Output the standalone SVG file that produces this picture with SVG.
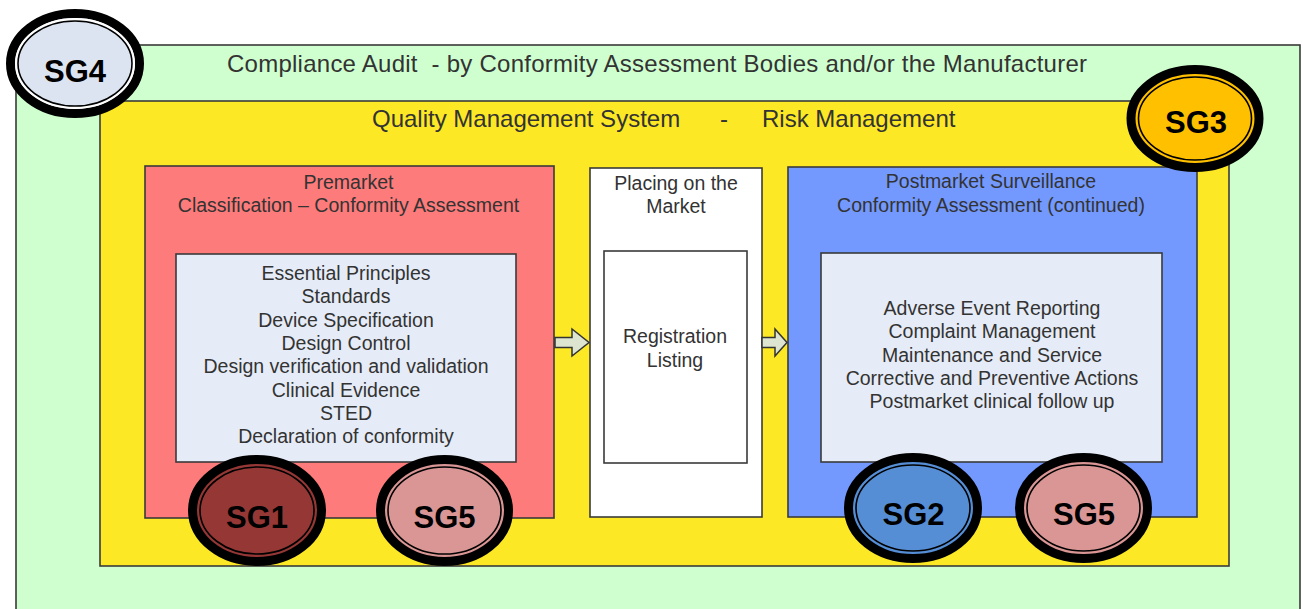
<svg xmlns="http://www.w3.org/2000/svg" width="1303" height="609" viewBox="0 0 1303 609">
<style>
.box{stroke:#3a3a3a;stroke-width:1.6}
.t{font-family:"Liberation Sans",Arial,sans-serif;font-size:19.5px;fill:#333;text-anchor:middle}
.big{font-family:"Liberation Sans",Arial,sans-serif;font-size:24px;fill:#333;white-space:pre}
.sg{stroke:#000;stroke-width:9}
.sgi{fill:none;stroke:#000;stroke-width:1.6}
.sgt{font-family:"Liberation Sans",Arial,sans-serif;font-size:31px;font-weight:bold;fill:#000;text-anchor:middle}
.arrow{fill:#dde4cf;stroke:#333;stroke-width:1.5}
</style>
<rect x="0" y="0" width="1303" height="609" fill="#ffffff"/>
<g id="compliance-audit">
<rect class="box" x="16" y="45" width="1284" height="600" fill="#cfffcf"/>
<text class="big" x="227" y="72" xml:space="preserve" textLength="860" lengthAdjust="spacing">Compliance Audit  - by Conformity Assessment Bodies and/or the Manufacturer</text>
</g>
<g id="qms">
<rect class="box" x="100" y="101" width="1129" height="465" fill="#fde825"/>
<text class="big" x="372" y="127">Quality Management System</text>
<text class="big" x="720" y="127">-</text>
<text class="big" x="762" y="127">Risk Management</text>
</g>
<g id="premarket">
<rect class="box" x="145" y="166" width="409" height="352" fill="#fe7b7b"/>
<text class="t" x="348.5" y="189">Premarket</text>
<text class="t" x="348.5" y="212">Classification – Conformity Assessment</text>
</g>
<g id="premarket-items">
<rect class="box" x="176" y="254" width="340" height="208" fill="#e6ecf7"/>
<text class="t" x="346" y="280">Essential Principles</text>
<text class="t" x="346" y="303.3">Standards</text>
<text class="t" x="346" y="326.6">Device Specification</text>
<text class="t" x="346" y="350">Design Control</text>
<text class="t" x="346" y="373.3">Design verification and validation</text>
<text class="t" x="346" y="396.6">Clinical Evidence</text>
<text class="t" x="346" y="420">STED</text>
<text class="t" x="346" y="443.3">Declaration of conformity</text>
</g>
<g id="placing">
<rect class="box" x="590" y="168" width="172" height="349" fill="#ffffff"/>
<text class="t" x="676" y="190">Placing on the</text>
<text class="t" x="676" y="213">Market</text>
</g>
<g id="registration">
<rect class="box" x="604" y="251" width="143" height="212" fill="#ffffff"/>
<text class="t" x="675" y="343">Registration</text>
<text class="t" x="675" y="367">Listing</text>
</g>
<g id="postmarket">
<rect class="box" x="788" y="167" width="409" height="350" fill="#7399fe"/>
<text class="t" x="991" y="188">Postmarket Surveillance</text>
<text class="t" x="991" y="212">Conformity Assessment (continued)</text>
</g>
<g id="postmarket-items">
<rect class="box" x="821" y="253" width="341" height="209" fill="#e6ecf7"/>
<text class="t" x="992" y="315">Adverse Event Reporting</text>
<text class="t" x="992" y="338.3">Complaint Management</text>
<text class="t" x="992" y="361.6">Maintenance and Service</text>
<text class="t" x="992" y="385">Corrective and Preventive Actions</text>
<text class="t" x="992" y="408.3">Postmarket clinical follow up</text>
</g>
<g id="connectors">
<polygon class="arrow" points="555,337.5 572,337.5 572,329 589,342.5 572,356 572,347.5 555,347.5"/>
<polygon class="arrow" points="762,337.5 775,337.5 775,329 787,342.5 775,356 775,347.5 762,347.5"/>
</g>
<g id="SG4">
<ellipse class="sg" cx="75" cy="63.5" rx="64.5" ry="50" fill="#dce4f1"/>
<ellipse cx="75" cy="63.5" rx="58.5" ry="44" fill="none" stroke="#ffffff" stroke-width="3"/>
<ellipse class="sgi" cx="75" cy="63.5" rx="57" ry="42.5"/>
<text class="sgt" x="75" y="82">SG4</text>
</g>
<g id="SG3">
<ellipse class="sg" cx="1195" cy="118.5" rx="64" ry="49" fill="#ffc000"/>
<ellipse class="sgi" cx="1195" cy="118.5" rx="56.5" ry="41.5"/>
<text class="sgt" x="1196" y="133">SG3</text>
</g>
<g id="SG1">
<ellipse class="sg" cx="257" cy="510.5" rx="64.5" ry="51" fill="#953735"/>
<ellipse class="sgi" cx="257" cy="510.5" rx="57" ry="43.5"/>
<text class="sgt" x="257" y="528">SG1</text>
</g>
<g id="SG5-left">
<ellipse class="sg" cx="444.5" cy="510.5" rx="64" ry="51" fill="#d99694"/>
<ellipse class="sgi" cx="444.5" cy="510.5" rx="56.5" ry="43.5"/>
<text class="sgt" x="444.5" y="528">SG5</text>
</g>
<g id="SG2">
<ellipse class="sg" cx="913" cy="508" rx="64.5" ry="50.5" fill="#558ed5"/>
<ellipse class="sgi" cx="913" cy="508" rx="57" ry="43"/>
<text class="sgt" x="913.5" y="525">SG2</text>
</g>
<g id="SG5-right">
<ellipse class="sg" cx="1083.5" cy="508" rx="64" ry="50.5" fill="#d99694"/>
<ellipse class="sgi" cx="1083.5" cy="508" rx="56.5" ry="43"/>
<text class="sgt" x="1084" y="525">SG5</text>
</g>
</svg>
